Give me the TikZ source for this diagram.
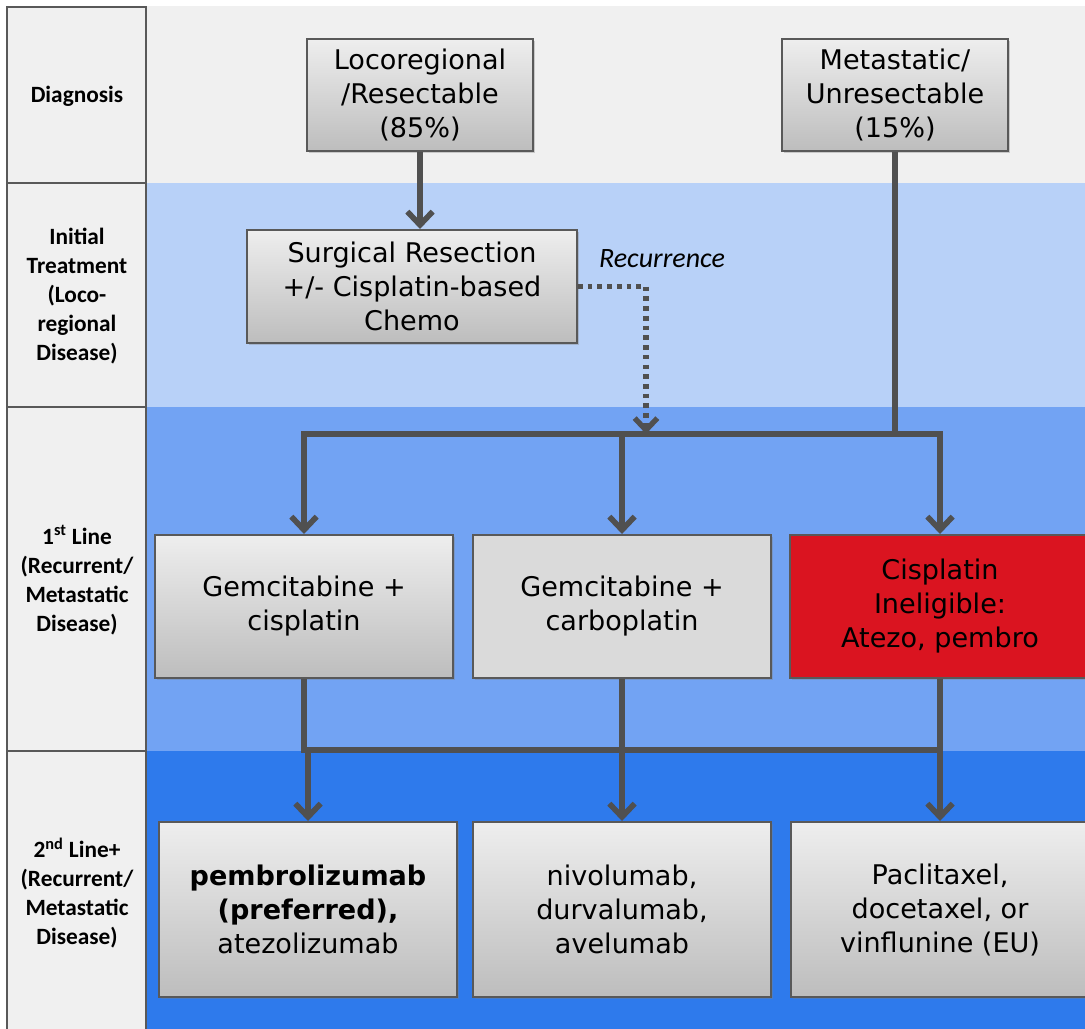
\documentclass[tikz,border=0pt]{standalone}
\usepackage{fontspec}
\setmainfont{DejaVu Sans}
\newfontfamily\calfont{Carlito}
\usetikzlibrary{arrows.meta,shadows}
\definecolor{bandA}{HTML}{F0F0F0}
\definecolor{bandB}{HTML}{B8D1F8}
\definecolor{bandC}{HTML}{72A3F3}
\definecolor{bandD}{HTML}{2E7AEC}
\definecolor{edgegray}{HTML}{595959}
\definecolor{conngray}{HTML}{505050}
\definecolor{boxtop}{HTML}{EEEEEE}
\definecolor{boxbot}{HTML}{BDBDBD}
\definecolor{flatgray}{HTML}{DADADA}
\definecolor{redbox}{HTML}{DA1420}
\begin{document}
\begin{tikzpicture}[x=0.75pt,y=-0.75pt,
  boxbase/.style={draw=edgegray, line width=1.5pt, align=center, inner sep=0pt,
    font=\fontsize{20.3}{25.5}\selectfont,
    drop shadow={shadow xshift=1.2pt, shadow yshift=-1.5pt, opacity=0.35}},
  gradbox/.style={boxbase, top color=boxtop, bottom color=boxbot},
  flatbox/.style={boxbase, fill=flatgray},
  rednode/.style={boxbase, fill=redbox},
  smallbox/.style={minimum width=169.5pt, minimum height=84pt},
  midbox/.style={minimum width=223.5pt, minimum height=107.25pt},
  lowbox/.style={minimum width=223.5pt, minimum height=131.25pt},
  rowlabel/.style={align=center, font=\calfont\bfseries\fontsize{17.5}{21.75}\selectfont},
  conn/.style={draw=conngray, line width=4.2pt},
  arr/.style={conn, -{Straight Barb[length=10pt,width=19pt]}},
  dotline/.style={draw=conngray, line width=4pt, dash pattern=on 3.5pt off 3.8pt,
    -{Straight Barb[length=9pt,width=17pt]}}
]
\useasboundingbox (0,0) rectangle (1085,1028);
\fill[white] (0,0) rectangle (1085,1028);
% bands
\fill[bandA] (146,6) rectangle (1095,183);
\fill[bandB] (146,183) rectangle (1095,407);
\fill[bandC] (146,407) rectangle (1095,751);
\fill[bandD] (146,751) rectangle (1095,1040);
% left column
\filldraw[fill=bandA, draw=edgegray, line width=1.5pt] (7,7) rectangle (146,1045);
\draw[edgegray, line width=1.5pt] (7,183) -- (146,183);
\draw[edgegray, line width=1.5pt] (7,407) -- (146,407);
\draw[edgegray, line width=1.5pt] (7,751) -- (146,751);
\node[rowlabel] (lab1) at (77,96) {Diagnosis};
\node[rowlabel] (lab2) at (77,296) {Initial\\Treatment\\(Loco-\\regional\\Disease)};
\node[rowlabel] (lab3) at (77,580) {1\textsuperscript{st} Line\\(Recurrent/\\Metastatic\\Disease)};
\node[rowlabel] (lab4) at (77,893) {2\textsuperscript{nd} Line+\\(Recurrent/\\Metastatic\\Disease)};
% boxes
\node[gradbox, smallbox] (loco) at (420,95) {Locoregional\\/Resectable\\(85\%)};
\node[gradbox, smallbox] (meta) at (895,95) {Metastatic/\\Unresectable\\(15\%)};
\node[gradbox, minimum width=247.5pt, minimum height=84.75pt] (surg) at (412,286.5) {Surgical Resection\\+/- Cisplatin-based\\Chemo};
\node[gradbox, midbox] (gc) at (304,606.5) {Gemcitabine +\\cisplatin};
\node[flatbox, midbox] (gcarb) at (622,606.5) {Gemcitabine +\\carboplatin};
\node[rednode, minimum width=225pt, minimum height=107.25pt] (red) at (940,606.5) {Cisplatin\\Ineligible:\\Atezo, pembro};
\node[gradbox, lowbox] (pembro) at (308,909.5) {\textbf{pembrolizumab}\\\textbf{(preferred),}\\atezolizumab};
\node[gradbox, lowbox] (nivo) at (622,909.5) {nivolumab,\\durvalumab,\\avelumab};
\node[gradbox, lowbox] (pacl) at (940,909.5) {Paclitaxel,\\docetaxel, or\\vinflunine (EU)};
\node[font=\calfont\itshape\fontsize{21}{25}\selectfont] (rec) at (662,259) {Recurrence};
% connectors
\coordinate (j1) at (895,434);
\coordinate (rj) at (646,434);
\coordinate (j2) at (622,750);
\draw[arr] (loco.south) -- (loco.south |- surg.north);
\draw[conn] (meta.south) -- (j1);
\draw[arr] (j1) -| (gc.north);
\draw[arr] (j1) -| (red.north);
\draw[arr] (gcarb.north |- j1) -- (gcarb.north);
\draw[dotline] (surg.east) -| (rj);
\draw[conn] (gc.south) |- (j2) -| (red.south);
\draw[conn] (gcarb.south) -- (j2);
\draw[arr] (pembro.north |- j2) -- (pembro.north);
\draw[arr] (nivo.north |- j2) -- (nivo.north);
\draw[arr] (pacl.north |- j2) -- (pacl.north);
\end{tikzpicture}
\end{document}
